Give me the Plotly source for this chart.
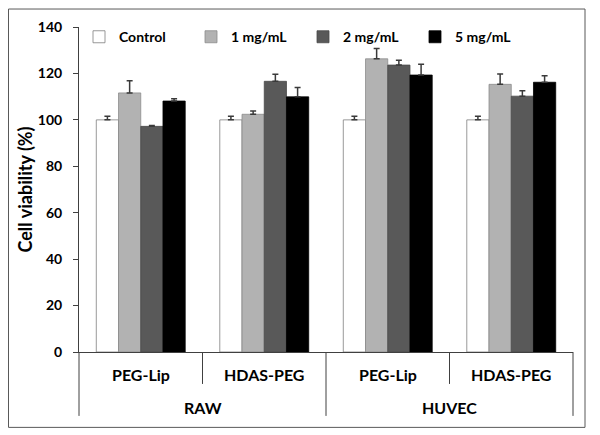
import plotly.graph_objects as go

# ---- data ----
cell_lines = ["RAW", "RAW", "HUVEC", "HUVEC"]
materials = ["PEG-Lip", "HDAS-PEG", "PEG-Lip", "HDAS-PEG"]
series_names = ["Control", "1 mg/mL", "2 mg/mL", "5 mg/mL"]
control = [100.0, 100.0, 100.0, 100.0]
dose_1 = [111.6, 102.4, 126.3, 115.3]
dose_2 = [97.2, 116.6, 123.6, 110.2]
dose_5 = [108.1, 109.9, 119.3, 116.2]
control_err = [1.6, 1.6, 1.6, 1.6]
dose_1_err = [5.3, 1.4, 4.4, 4.4]
dose_2_err = [0.4, 3.0, 2.1, 2.3]
dose_5_err = [1.0, 4.0, 4.7, 2.8]
y_ticks = [0, 20, 40, 60, 80, 100, 120, 140]

values = [control, dose_1, dose_2, dose_5]
errors = [control_err, dose_1_err, dose_2_err, dose_5_err]
fills = ["#ffffff", "#b2b2b2", "#595959", "#000000"]
outlines = ["#7f7f7f", "#8c8c8c", "#4a4a4a", "#000000"]

FONT = "Lato"
AX = "#404040"

# page has an 8px body margin; figure is laid out to compensate
W, H = 592, 427
ML, MT, PW, PH = 71, 19, 494, 325.5
MR, MB = W - ML - PW, H - MT - PH

fig = go.Figure()
for name, vals, errs, fc, lc in zip(series_names, values, errors, fills, outlines):
    fig.add_trace(go.Bar(
        name=name,
        x=[cell_lines, materials],
        y=vals,
        marker=dict(color=fc, line=dict(color=lc, width=0.8)),
        error_y=dict(type="data", symmetric=False, array=errs,
                     arrayminus=[0] * len(errs),
                     color="#3a3a3a", thickness=1.5, width=3),
    ))

n = len(materials)
shapes = []
annotations = []
# inner category labels and short dividers
for i, lab in enumerate(materials):
    annotations.append(dict(text=lab, xref="paper", yref="paper",
                            x=(i + 0.5) / n, y=-23 / PH, xanchor="center", yanchor="middle",
                            showarrow=False, font=dict(size=16, family=FONT, weight="bold")))
for i in range(1, n):
    if cell_lines[i] == cell_lines[i - 1]:
        shapes.append(dict(type="line", xref="paper", yref="paper", x0=i / n, x1=i / n,
                           y0=0, y1=-32 / PH, line=dict(color=AX, width=1)))
# outer group labels and full dividers
groups = []
for i, g in enumerate(cell_lines):
    if not groups or groups[-1][0] != g:
        groups.append([g, i, i + 1])
    else:
        groups[-1][2] = i + 1
bounds = sorted({b for _, s, e in groups for b in (s, e)})
for g, s, e in groups:
    annotations.append(dict(text=g, xref="paper", yref="paper",
                            x=(s + e) / 2 / n, y=-56 / PH, xanchor="center", yanchor="middle",
                            showarrow=False, font=dict(size=16, family=FONT, weight="bold")))
for b in bounds:
    shapes.append(dict(type="line", xref="paper", yref="paper", x0=b / n, x1=b / n,
                       y0=0, y1=-64 / PH, line=dict(color=AX, width=1)))
# outer frame
shapes.append(dict(type="rect", xref="paper", yref="paper",
                   x0=(0.5 - ML) / PW, x1=(577 - ML) / PW,
                   y0=(MT + PH - 420) / PH, y1=(MT + PH - 1) / PH,
                   line=dict(color="#595959", width=1), fillcolor="rgba(0,0,0,0)", layer="below"))

fig.update_layout(
    width=W, height=H,
    margin=dict(l=ML, r=MR, t=MT, b=MB, autoexpand=False),
    paper_bgcolor="white", plot_bgcolor="white",
    font=dict(family=FONT, size=14, color="#000000", weight="bold"),
    barmode="group", bargap=0.28, bargroupgap=0,
    showlegend=True,
    legend=dict(orientation="h", x=0.0, xanchor="left", y=1.018, yanchor="top",
                bgcolor="rgba(0,0,0,0)", font=dict(size=14, family=FONT, weight="bold"),
                entrywidth=67, entrywidthmode="pixels", itemwidth=30),
    xaxis=dict(
        type="multicategory",
        range=[-0.5, n - 0.5],
        showline=True, linecolor=AX, linewidth=1,
        ticks="", showticklabels=False, showdividers=False,
        showgrid=False, zeroline=False, automargin=False,
    ),
    yaxis=dict(
        range=[0, 140],
        tickvals=y_ticks,
        showline=True, linecolor=AX, linewidth=1,
        ticks="outside", ticklen=5, tickcolor=AX, tickwidth=1,
        showgrid=False, zeroline=False, automargin=False,
        tickfont=dict(size=14, family=FONT, weight="bold"),
        ticklabelstandoff=8,
        title=dict(text="Cell viability (%)", font=dict(size=18, family=FONT, weight="bold"), standoff=0),
    ),
    shapes=shapes,
    annotations=annotations,
)

fig.write_html("out.html")
